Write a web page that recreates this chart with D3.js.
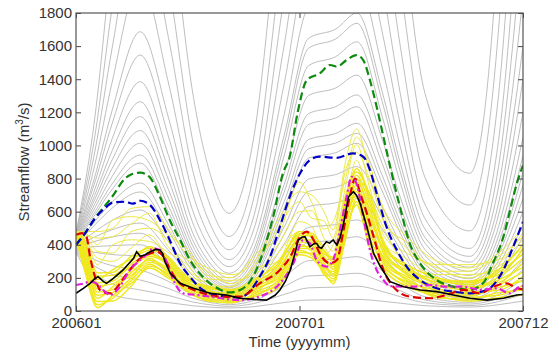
<!DOCTYPE html>
<html><head><meta charset="utf-8">
<script src="https://cdn.jsdelivr.net/npm/d3@7/dist/d3.min.js"></script>
<style>body{margin:0;background:#fff;}svg{display:block;font-family:"Liberation Sans",Arial,sans-serif;}</style>
</head><body><svg id="c" width="559" height="356"></svg>
<script>
// ---------- data ----------
const yTicks = [0,200,400,600,800,1000,1200,1400,1600,1800];
const xTickDates = ["2006-01-01","2007-01-01","2008-01-01"];
const xTickLabels = ["200601","200701","200712"];
const yLabel = "Streamflow (m";
const xLabel = "Time (yyyymm)";

// gray ensemble: day offsets from 2006-01-01
const grayDays = [0,31,59,105,151,190,220,250,290,340,380,424,459,500,530,570,643,690,712,730];
const grayLines = [
[470,1175,2164,3600,2507,1332,817,590,1042,2763,4150,4278,4500,3435,2409,1313,832,2235,4043,6000],
[465,1060,1835,2900,1997,1040,629,450,818,2276,3489,3602,3800,2858,1966,1036,640,1697,3046,4500],
[460,967,1588,2400,1651,858,518,370,677,1906,2935,3031,3200,2366,1590,806,484,1301,2357,3500],
[455,886,1382,2000,1377,718,434,310,568,1606,2475,2557,2700,1971,1305,643,378,1029,1876,2800],
[450,815,1212,1687,1168,613,373,268,489,1373,2112,2181,2300,1686,1121,557,330,871,1560,2300],
[445,779,1132,1546,1054,539,322,228,419,1188,1835,1895,2000,1472,985,495,295,749,1309,1900],
[440,737,1040,1385,940,478,283,200,370,1062,1648,1703,1800,1325,886,444,265,651,1117,1600],
[435,703,968,1264,856,433,256,180,340,1009,1588,1643,1738,1266,835,410,240,580,984,1400],
[430,676,913,1174,793,399,235,165,313,939,1483,1536,1626,1176,769,371,215,508,850,1200],
[425,649,861,1090,733,366,214,150,282,830,1302,1347,1425,1037,683,334,195,453,750,1050],
[420,624,813,1013,682,341,200,140,262,764,1193,1234,1305,949,625,305,178,409,674,940],
[415,600,768,942,634,317,186,130,244,719,1127,1166,1234,892,582,280,162,369,605,840],
[410,582,735,893,598,296,172,120,225,662,1036,1072,1134,820,536,259,150,338,549,760],
[405,542,658,773,523,264,156,110,208,621,980,1014,1073,773,502,240,138,306,494,680],
[400,521,621,719,484,243,143,100,191,581,924,956,1013,725,467,220,125,274,438,600],
[395,480,547,610,418,215,129,92,173,508,797,824,872,628,408,195,112,241,382,520],
[390,448,491,531,367,193,117,84,157,462,723,748,791,568,368,175,100,212,333,450],
[385,421,447,470,327,173,106,76,141,406,632,653,690,496,322,154,88,183,284,380],
[380,389,395,400,281,151,94,68,122,333,505,522,550,401,264,130,76,153,234,310],
[375,354,341,330,233,127,79,58,103,275,414,427,449,329,218,108,64,126,190,250],
[370,309,274,248,179,101,64,48,82,207,304,313,328,244,166,86,52,99,147,190],
[365,270,221,187,136,78,51,38,63,148,212,218,228,174,122,66,42,77,110,140],
[360,225,165,127,94,55,37,28,45,100,140,144,150,118,86,50,33,57,80,100],
[355,167,100,66,51,32,23,18,26,51,66,68,70,59,47,32,24,38,50,60]
];

// yellow ensemble
const yellowDays = [0,15,35,60,90,120,150,180,215,255,295,330,365,385,405,420,440,458,480,505,540,590,640,690,730];
const yellowUpper = [
[455,430,320,300,380,460,320,220,172,130,200,350,480,460,390,320,650,910,650,400,315,200,180,270,380],
[460,440,280,400,430,420,355,285,150,148,260,300,540,510,340,400,700,860,695,480,280,220,220,250,405],
[465,450,360,350,480,500,425,250,195,185,230,400,600,605,440,360,750,1005,740,440,350,260,200,290,430],
[470,460,440,450,525,590,390,315,238,165,290,500,660,560,545,440,850,960,790,520,415,240,240,330,450],
[475,470,400,550,570,545,460,380,215,202,350,450,780,655,495,540,800,1050,880,560,380,280,280,310,475],
[480,480,480,500,620,630,500,345,260,220,320,550,720,700,600,490,900,1100,835,600,450,300,260,350,500]
];
const yellowBand = [
[445,230,20,94,166,260,200,128,60,50,110,154,340,320,234,165,430,680,409,240,150,91,60,80,100],
[450,250,57,60,150,272,224,120,68,65,90,140,353,347,220,180,475,640,380,255,174,80,71,111,127],
[455,268,38,77,183,284,212,136,76,57,100,169,365,334,248,194,453,660,438,269,162,102,82,95,155],
[460,285,95,112,199,319,235,153,85,79,120,183,404,361,275,209,521,700,467,313,185,124,93,142,182],
[462,303,76,146,215,295,247,145,101,72,130,211,378,375,261,238,498,740,496,284,197,113,115,126,209],
[465,320,114,129,232,307,259,161,93,86,140,197,391,388,289,223,544,720,525,298,209,135,104,157,236],
[468,338,152,164,248,354,271,177,109,101,150,226,442,402,316,252,589,760,555,356,221,156,125,188,264],
[470,355,133,198,264,331,283,169,126,94,160,254,416,415,302,281,566,800,584,327,233,145,147,173,291],
[472,372,171,181,281,343,294,186,117,108,170,240,429,429,330,267,612,780,613,342,245,167,136,204,318],
[475,390,210,215,297,390,306,202,134,123,180,269,480,443,357,296,657,820,642,400,256,189,158,235,345],
[478,405,190,250,313,366,318,194,150,115,190,300,455,456,343,325,635,860,671,371,268,178,180,219,373],
[480,420,230,233,330,378,330,210,142,130,200,283,467,470,370,310,680,840,700,385,280,200,169,250,400]
];

const greenDays = [0,11,31,59,80,90,105,120,137,153,170,186,207,235,250,268,289,305,322,338,349,362,377,398,415,426,442,458,469,480,491,502,513,529,545,562,589,616,643,665,681,698,709,720,730];
const greenVals = [400,450,560,690,800,825,836,810,690,550,429,308,207,130,112,127,207,350,570,833,932,1200,1395,1435,1486,1476,1516,1546,1516,1395,1234,1053,872,630,409,288,187,147,127,169,290,449,610,771,880];

const blueDays = [0,15,31,47,60,80,93,105,121,137,153,170,186,207,235,268,284,300,317,333,349,366,382,398,426,452,469,480,491,507,524,540,562,589,616,643,671,698,714,730];
const blueVals = [400,470,560,620,655,660,648,666,640,550,429,288,207,127,92,82,120,207,328,509,690,832,912,932,925,952,932,852,711,509,368,268,187,137,117,107,127,248,388,540];

const redDays = [0,10,17,23,31,39,48,56,64,72,80,88,97,105,113,121,132,143,154,170,186,208,235,268,300,333,350,366,377,388,398,415,426,437,447,456,464,475,486,502,518,545,578,605,633,660,682,703,720,730];
const redVals = [460,470,449,328,207,127,110,107,130,167,210,248,290,318,335,348,358,328,248,167,137,107,87,87,167,248,328,449,479,429,348,288,308,489,690,800,711,590,449,248,147,87,77,97,127,107,147,167,137,130];

const magentaDays = [0,12,23,31,39,48,56,64,72,80,88,105,115,126,137,148,159,175,197,219,268,300,333,355,371,382,393,409,420,431,442,450,458,469,480,491,502,513,551,578,605,633,660,687,708,725,730];
const magentaVals = [157,165,177,170,147,115,97,115,147,200,248,308,340,379,368,298,187,107,97,87,66,87,167,288,429,409,308,268,308,489,690,811,771,570,368,248,187,150,147,157,147,147,127,137,107,147,150];

const blackDays = [0,12,23,31,36,45,50,61,77,94,99,105,113,121,130,137,141,145,154,170,192,219,246,268,290,311,325,333,342,350,357,363,369,374,382,388,393,397,401,405,409,414,420,426,431,437,445,453,458,464,475,486,497,513,535,562,589,616,643,671,698,720,730];
const blackVals = [107,137,167,197,207,177,167,197,248,318,358,330,340,358,372,368,350,300,228,167,137,107,97,77,70,66,95,127,180,248,340,429,445,449,388,405,409,385,379,400,419,410,429,399,440,530,690,721,700,650,509,348,268,177,147,127,117,97,77,66,77,97,100];

// ---------- chart ----------
const W = 559, H = 356;
const m = {left:76, right:36, top:13, bottom:45};
const svg = d3.select("#c");
const t0 = new Date(Date.UTC(2006,0,1));
const day = d => d3.utcDay.offset(t0, d);
const x = d3.scaleUtc().domain([t0, new Date(Date.UTC(2008,0,1))]).range([m.left, W - m.right]);
const y = d3.scaleLinear().domain([0,1800]).range([H - m.bottom, m.top]);

svg.append("defs").append("clipPath").attr("id","clip")
  .append("rect").attr("x", m.left).attr("y", m.top)
  .attr("width", W - m.left - m.right).attr("height", H - m.top - m.bottom);

const g = svg.append("g").attr("clip-path","url(#clip)");

function pts(days, vals){ return days.map((d,i)=>[day(d), vals[i]]); }
const smooth = d3.line().x(p=>x(p[0])).y(p=>y(p[1])).curve(d3.curveMonotoneX);
const straight = d3.line().x(p=>x(p[0])).y(p=>y(p[1]));

g.selectAll(".gray").data(grayLines).join("path")
  .attr("fill","none").attr("stroke","#b2b2b2").attr("stroke-width",0.85)
  .attr("d", v => smooth(pts(grayDays, v)));

g.selectAll(".yu").data(yellowUpper).join("path")
  .attr("fill","none").attr("stroke","#ece84a").attr("stroke-width",1)
  .attr("d", v => smooth(pts(yellowDays, v)));
g.selectAll(".yb").data(yellowBand).join("path")
  .attr("fill","none").attr("stroke","#efe81c").attr("stroke-width",1.4)
  .attr("d", v => smooth(pts(yellowDays, v)));

function dashed(days, vals, color, dash, w){
  g.append("path").attr("fill","none").attr("stroke",color).attr("stroke-width",w)
    .attr("stroke-dasharray",dash).attr("d", smooth(pts(days, vals)));
}
dashed(greenDays, greenVals, "#0e8a0e", "8,4", 2.2);
dashed(blueDays, blueVals, "#0000c8", "8,4", 2.2);
dashed(redDays, redVals, "#e00000", "8,4", 2.2);
dashed(magentaDays, magentaVals, "#e01ee0", "7,3,2,3", 2.2);
g.append("path").attr("fill","none").attr("stroke","#000").attr("stroke-width",1.6)
  .attr("d", straight(pts(blackDays, blackVals)));

// axes
const tickDates = xTickDates.map(s => new Date(s + "T00:00:00Z"));
const axStyle = sel => { sel.select(".domain").remove(); sel.selectAll("line").attr("stroke","#444"); 
  sel.selectAll("text").attr("fill","#333").style("font-size","15px").style("font-family","'Liberation Sans',Arial,sans-serif"); };
svg.append("g").attr("transform",`translate(${m.left},0)`)
  .call(d3.axisLeft(y).tickValues(yTicks).tickSize(-5).tickPadding(4).tickFormat(d3.format("d"))).call(axStyle);
svg.append("g").attr("transform",`translate(${W-m.right},0)`)
  .call(d3.axisRight(y).tickValues(yTicks).tickSize(-5).tickFormat("")).call(axStyle);
svg.append("g").attr("transform",`translate(0,${H-m.bottom})`)
  .call(d3.axisBottom(x).tickValues(tickDates).tickSize(-5).tickPadding(6)
    .tickFormat((d,i)=>xTickLabels[i])).call(axStyle);
svg.append("g").attr("transform",`translate(0,${m.top})`)
  .call(d3.axisTop(x).tickValues(tickDates).tickSize(-5).tickFormat("")).call(axStyle);

svg.append("rect").attr("x", m.left).attr("y", m.top)
  .attr("width", W - m.left - m.right).attr("height", H - m.top - m.bottom)
  .attr("fill","none").attr("stroke","#555").attr("stroke-width",1.2);

const yl = svg.append("text").attr("transform",`translate(29,${(m.top + H - m.bottom)/2}) rotate(-90)`)
  .attr("text-anchor","middle").attr("fill","#333").style("font-size","15px");
yl.append("tspan").text(yLabel);
yl.append("tspan").attr("dy","-6").style("font-size","10px").text("3");
yl.append("tspan").attr("dy","6").text("/s)");

svg.append("text").attr("x", x(tickDates[1])).attr("y", 347).attr("text-anchor","middle")
  .attr("fill","#333").style("font-size","15px").text(xLabel);
</script></body></html>
